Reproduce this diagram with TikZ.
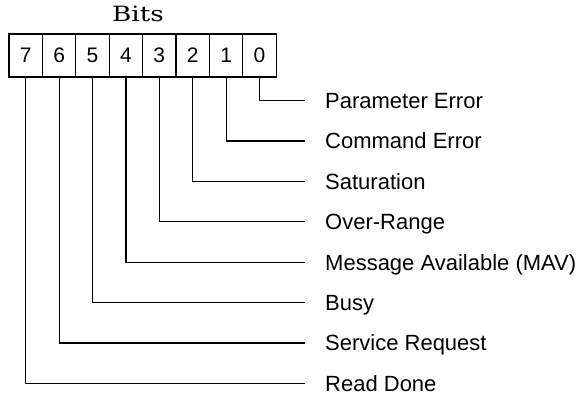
\documentclass[tikz,border=0pt]{standalone}
\usepackage{fontspec}
\newfontfamily\labelfont{Liberation Sans}
\newfontfamily\titlefont{DejaVu Serif}
\usetikzlibrary{positioning}

\begin{document}
\begin{tikzpicture}[
    x=1pt,
    y=-1pt,
    bitcell/.style={
        rectangle,
        draw,
        line width=1.2pt,
        minimum width=33.4pt,
        minimum height=43pt,
        inner sep=0pt,
        font=\labelfont\fontsize{21}{21}\selectfont
    },
    lbl/.style={
        inner sep=0pt,
        text height=15.8pt,
        text depth=0pt,
        font=\labelfont\fontsize{22}{22}\selectfont
    },
    wire/.style={
        line width=1.2pt
    }
]
\useasboundingbox (0,0) rectangle (580,394);

% ---------------- TITLE ----------------
\node[text height=15.3pt, text depth=0pt, inner sep=0pt,
      font=\titlefont\fontsize{21}{21}\selectfont] (bits) at (138,13.5) {\scalebox{1.25}[1]{Bits}};

% ---------------- REGISTER ----------------
\foreach \b in {7,...,0} {
    \node[bitcell] (bit\b) at ({9+(7.5-\b)*33.4},55.5) {\b};
}

% ---------------- FLAGS ----------------
\foreach \b/\txt in {0/Parameter Error,
                     1/Command Error,
                     2/Saturation,
                     3/Over-Range,
                     4/Message Available (MAV),
                     5/Busy,
                     6/Service Request,
                     7/Read Done} {
    \coordinate (end\b) at (305,{100.5+\b*40.4});
    \node[lbl, right=20pt of end\b] (flag\b) {\txt};
    \draw[wire] (bit\b.south) |- (end\b);
}

\end{tikzpicture}
\end{document}
